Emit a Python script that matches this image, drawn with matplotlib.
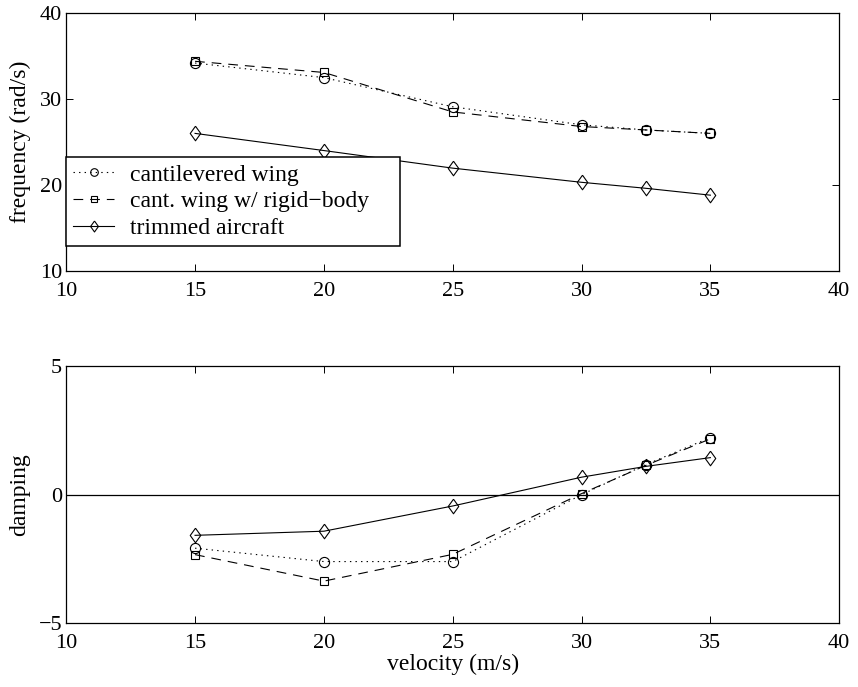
import matplotlib
matplotlib.use("Agg")
import matplotlib.pyplot as plt

plt.rcParams['font.family'] = ['Liberation Serif', 'DejaVu Serif']
plt.rcParams['font.size'] = 17
plt.rcParams['lines.scale_dashes'] = False

# velocity (m/s)
velocity = [15, 20, 25, 30, 32.5, 35]

# frequency (rad/s)
freq_cant = [34.2, 32.5, 29.1, 27.0, 26.4, 26.0]
freq_rigid = [34.4, 33.1, 28.5, 26.8, 26.4, 26.0]
freq_trim = [26.0, 24.0, 21.95, 20.3, 19.6, 18.8]

# damping
damp_cant = [-2.08, -2.6, -2.6, 0.0, 1.17, 2.22]
damp_rigid = [-2.33, -3.36, -2.32, 0.04, 1.14, 2.17]
damp_trim = [-1.58, -1.42, -0.44, 0.68, 1.10, 1.44]

labels = ['cantilevered wing', 'cant. wing w/ rigid\u2212body', 'trimmed aircraft']

# matlab style diamond
diamond = [(0, 1), (0.72, 0), (0, -1), (-0.72, 0), (0, 1)]

styles = [
    dict(linestyle=(0, (1, 3)), marker='o', markersize=7.3),
    dict(linestyle=(0, (7, 5)), marker='s', markersize=6),
    dict(linestyle='-', marker=diamond, markersize=10.5),
]
common = dict(color='k', markerfacecolor='none', markeredgecolor='k', markeredgewidth=0.8, linewidth=0.8)

fig = plt.figure(figsize=(8.58, 6.87), dpi=100)
ax1 = fig.add_axes([0.0772, 0.606, 0.9009, 0.3747])
ax2 = fig.add_axes([0.0772, 0.0927, 0.9009, 0.3745])

for y, st, lab in zip([freq_cant, freq_rigid, freq_trim], styles, labels):
    ax1.plot(velocity, y, label=lab, **st, **common)

ax2.axhline(0, color='k', linewidth=0.9)
for y, st in zip([damp_cant, damp_rigid, damp_trim], styles):
    ax2.plot(velocity, y, **st, **common)

xt = [10, 15, 20, 25, 30, 35, 40]
ax1.set_xlim(10, 40)
ax1.set_ylim(10, 40)
ax1.set_xticks(xt)
ax1.set_yticks([10, 20, 30, 40])
ax1.set_ylabel('frequency (rad/s)', labelpad=6)

ax2.set_xlim(10, 40)
ax2.set_ylim(-5, 5)
ax2.set_xticks(xt)
ax2.set_yticks([-5, 0, 5])
ax2.set_yticklabels(['\u22125', '0', '5'])
ax2.set_ylabel('damping', labelpad=6)
ax2.set_xlabel('velocity (m/s)', labelpad=0)

for ax in (ax1, ax2):
    ax.tick_params(direction='in', top=True, right=True, length=5, width=0.7, labelsize=16)
    ax.tick_params(axis='x', pad=8)
    ax.tick_params(axis='y', pad=3)
    for s in ax.spines.values():
        s.set_linewidth(0.9)

# legend box spans x 66..400 px, top at 157 px
leg = ax1.legend(loc='upper left', bbox_to_anchor=(66 / 858, 1 - 157 / 687, 334 / 858, 0.0),
                 bbox_transform=fig.transFigure, mode='expand',
                 fancybox=False, framealpha=1, edgecolor='k', fontsize=17, markerscale=0.75,
                 handlelength=1.75, borderpad=0.3, labelspacing=0.22, handletextpad=0.65, borderaxespad=0)
leg.get_frame().set_linewidth(1.1)

fig.savefig('out.png', dpi=100)
